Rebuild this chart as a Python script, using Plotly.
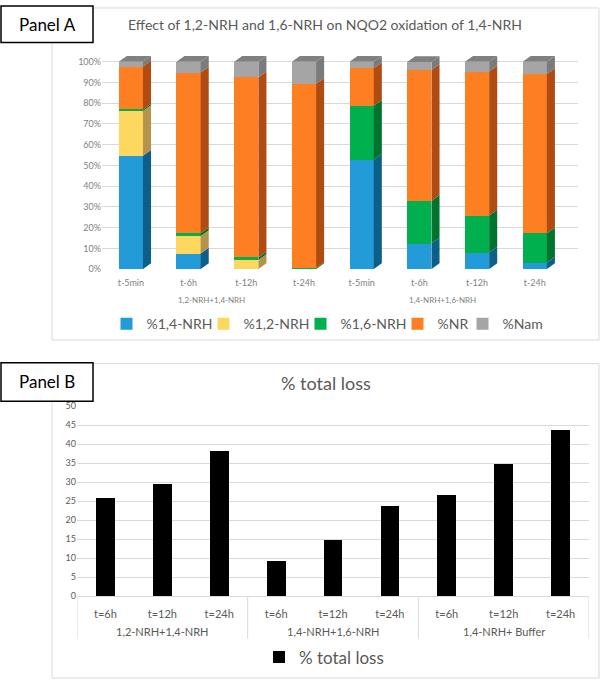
import plotly.graph_objects as go

# ---------------- Data ----------------
times_A = ["t-5min", "t-6h", "t-12h", "t-24h", "t-5min", "t-6h", "t-12h", "t-24h"]
groups_A = ["1,2-NRH+1,4-NRH", "1,4-NRH+1,6-NRH"]
series_names = ["%1,4-NRH", "%1,2-NRH", "%1,6-NRH", "%NR", "%Nam"]
p14 = [54.7, 7.5, 0.0, 0.0, 52.8, 12.3, 8.0, 3.1]
p12 = [21.5, 8.4, 4.4, 0.0, 0.0, 0.0, 0.0, 0.0]
p16 = [0.8, 1.4, 1.2, 0.5, 26.0, 20.6, 17.8, 14.1]
pNR = [20.7, 77.5, 86.9, 88.9, 18.1, 63.1, 69.5, 76.9]
pNam = [2.3, 5.2, 7.5, 10.6, 3.1, 3.9, 4.7, 5.9]
pct_ticks = [0, 10, 20, 30, 40, 50, 60, 70, 80, 90, 100]

groups_B = ["1,2-NRH+1,4-NRH", "1,4-NRH+1,6-NRH", "1,4-NRH+ Buffer"]
times_B = ["t=6h", "t=12h", "t=24h"]
loss = [25.8, 29.4, 38.1, 9.2, 14.8, 23.8, 26.5, 34.8, 43.8]

# ---------------- Style ----------------
FONT = "Lato"
TXT = "#595959"
GRID = "#d9d9d9"
front = ["#229bd8", "#fdd75e", "#00b04f", "#fd7f22", "#a5a5a5"]
side = ["#0d5f8a", "#b3944a", "#00732f", "#b04b12", "#7b7b7b"]
legend_w = [52, 52, 52, 20, 40]
top_col = "#808080"
W = 0.42   # bar width (category units)
DX = 0.14  # 3D depth in x
DY = 2.8   # 3D depth in y (%)

fig = go.Figure()

xs = list(range(len(times_A)))
series = [p14, p12, p16, pNR, pNam]

# front faces
for name, vals, col, lw in zip(series_names, series, front, legend_w):
    fig.add_trace(go.Bar(x=xs, y=vals, name=name, width=W,
                         marker=dict(color=col, line=dict(width=0)),
                         legendwidth=lw,
                         xaxis="x", yaxis="y", legend="legend"))

# side faces (3D look), built from the same values
cum = [0.0] * len(xs)
for k, (vals, col) in enumerate(zip(series, side)):
    px, py = [], []
    for i, v in enumerate(vals):
        y0, y1 = cum[i], cum[i] + v
        if v > 0:
            xr = xs[i] + W / 2
            px += [xr, xr + DX, xr + DX, xr, xr, None]
            py += [y0, y0 + DY, y1 + DY, y1, y0, None]
        cum[i] = y1
    fig.add_trace(go.Scatter(x=px, y=py, mode="lines", fill="toself",
                             fillcolor=col, line=dict(width=0, color=col),
                             hoverinfo="skip", showlegend=False,
                             xaxis="x", yaxis="y"))
# top faces
px, py = [], []
for i in xs:
    T = cum[i]
    xl, xr = xs[i] - W / 2, xs[i] + W / 2
    px += [xl, xr, xr + DX, xl + DX, xl, None]
    py += [T, T, T + DY, T + DY, T, None]
fig.add_trace(go.Scatter(x=px, y=py, mode="lines", fill="toself",
                         fillcolor=top_col, line=dict(width=0, color=top_col),
                         hoverinfo="skip", showlegend=False,
                         xaxis="x", yaxis="y"))

# Panel B
nT = len(times_B)
xB = list(range(len(groups_B) * nT))
ticksB = [t for _ in groups_B for t in times_B]
fig.add_trace(go.Bar(x=xB, y=loss, name="% total loss", width=0.33,
                     marker=dict(color="#000000", line=dict(width=0)),
                     xaxis="x2", yaxis="y2", legend="legend2"))

H = 685.0
def py_(p):
    return 1 - p / H

fig.update_layout(
    width=600, height=685,
    margin=dict(l=0, r=0, t=0, b=0),
    paper_bgcolor="white", plot_bgcolor="white",
    font=dict(family=FONT, color=TXT),
    barmode="stack",
    showlegend=True,
    xaxis=dict(domain=[102 / 600, 578 / 600], range=[-0.5, 7.75],
               tickvals=xs, ticktext=times_A, tickfont=dict(size=9, color="#7f7f7f"),
               ticklabelstandoff=7,
               showgrid=False, zeroline=False, showline=False, ticks="",
               anchor="y"),
    yaxis=dict(domain=[py_(268), py_(45)], range=[0, 106],
               tickmode="array", tickvals=pct_ticks,
               ticktext=[f"{v}%" for v in pct_ticks],
               tickfont=dict(size=9, color="#7f7f7f"), gridcolor=GRID, gridwidth=1,
               zeroline=False, showline=False, ticks="", anchor="x"),
    xaxis2=dict(domain=[77 / 600, 589 / 600], range=[-0.5, len(xB) - 0.5],
                tickmode="array", tickvals=xB, ticktext=ticksB,
                tickfont=dict(size=11, color=TXT), showgrid=False,
                showline=True, linecolor=GRID, linewidth=1,
                ticks="", ticklabelstandoff=8,
                zeroline=False, anchor="y2"),
    yaxis2=dict(domain=[py_(600), py_(406.3)], range=[0, 50.2],
                tickmode="array", tickvals=list(range(0, 51, 5)),
                tickfont=dict(size=9, color=TXT), gridcolor=GRID, gridwidth=1,
                zeroline=False, showline=False, ticks="", anchor="x2"),
    legend=dict(orientation="h", x=0.545, xanchor="center", y=py_(324),
                yanchor="middle", font=dict(size=14, color=TXT),
                itemwidth=30, traceorder="normal", bgcolor="rgba(0,0,0,0)"),
    legend2=dict(orientation="h", x=0.54, xanchor="center", y=py_(662),
                 yanchor="middle", font=dict(size=17, color=TXT),
                 bgcolor="rgba(0,0,0,0)"),
)

# group labels for Panel A
for gx, g in zip([1.4, 5.4], groups_A):
    fig.add_annotation(x=gx, xref="x", y=py_(299), yref="paper", text=g,
                       showarrow=False, font=dict(size=8, color="#7f7f7f"),
                       xanchor="center", yanchor="middle")

# group labels and dividers for Panel B
for gi, g in enumerate(groups_B):
    fig.add_annotation(x=gi * nT + (nT - 1) / 2, xref="x2", y=py_(636), yref="paper",
                       text=g, showarrow=False, font=dict(size=11, color=TXT),
                       xanchor="center", yanchor="middle")
for gi in range(len(groups_B) + 1):
    fig.add_shape(type="line", xref="x2", yref="paper",
                  x0=gi * nT - 0.5, x1=gi * nT - 0.5, y0=py_(643), y1=py_(600),
                  line=dict(color=GRID, width=1))

# titles
fig.add_annotation(x=325 / 600, xref="paper", y=py_(20), yref="paper",
                   text="Effect of 1,2-NRH and 1,6-NRH on NQO2 oxidation of 1,4-NRH",
                   showarrow=False, font=dict(size=14, color=TXT),
                   xanchor="center", yanchor="middle")
fig.add_annotation(x=326 / 600, xref="paper", y=py_(384), yref="paper",
                   text="% total loss", showarrow=False,
                   font=dict(size=18, color=TXT), xanchor="center", yanchor="middle")

# chart frames
for (x0, y0, x1, y1) in [(52, 3, 599, 340), (52, 364, 599, 683)]:
    fig.add_shape(type="rect", xref="paper", yref="paper",
                  x0=x0 / 600, x1=x1 / 600, y0=py_(y1), y1=py_(y0),
                  line=dict(color=GRID, width=1), fillcolor="rgba(0,0,0,0)",
                  layer="below")

# Panel label boxes
for (x0, y0, x1, y1, label) in [(1, 1, 93, 38, "Panel A"), (1, 363, 93, 402, "Panel B")]:
    fig.add_shape(type="rect", xref="paper", yref="paper",
                  x0=x0 / 600, x1=x1 / 600, y0=py_(y1), y1=py_(y0),
                  line=dict(color="black", width=1.5), fillcolor="white")
    fig.add_annotation(x=(x0 + x1) / 2 / 600, xref="paper",
                       y=py_((y0 + y1) / 2), yref="paper", text=label,
                       showarrow=False, font=dict(size=17, color="black"),
                       xanchor="center", yanchor="middle")

fig.write_html("out.html", config={"displayModeBar": False},
               post_script="document.body.style.margin='0px';"
                           "document.body.style.overflow='hidden';")
